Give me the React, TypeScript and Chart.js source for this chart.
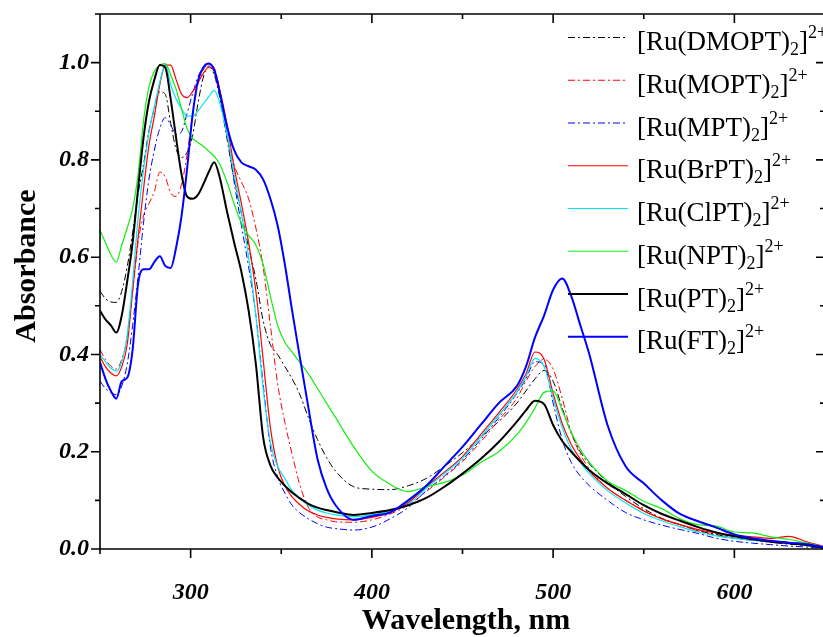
import React, { useEffect, useRef } from 'react';
import { Chart, registerables } from 'chart.js';

Chart.register(...registerables);

// Wavelength grid (nm)
const wavelengths = [
  250, 253, 256, 259, 262, 265, 268, 271, 274, 277, 280, 283, 286, 289, 292, 295, 298, 301, 304, 307, 310, 313, 316,
  320, 324, 328, 332, 336, 340, 344, 348, 352, 356, 360, 365, 370, 375, 380,
  390, 400, 410, 420, 430, 440, 450, 460, 470, 480, 485, 490, 495, 500, 505, 510, 515, 520,
  530, 540, 550, 560, 570, 580, 590, 600, 610, 620, 630, 640, 650,
];

const absDMOPT = [
  0.53, 0.515, 0.508, 0.507, 0.53, 0.58, 0.65, 0.73, 0.79, 0.86, 0.905, 0.94, 0.935, 0.875, 0.822, 0.805, 0.815, 0.848, 0.915, 0.97, 0.993, 0.975, 0.93,
  0.845, 0.76, 0.69, 0.62, 0.555, 0.47, 0.42, 0.4, 0.375, 0.35, 0.32, 0.27, 0.225, 0.188, 0.16,
  0.128, 0.123, 0.122, 0.13, 0.145, 0.17, 0.198, 0.23, 0.262, 0.3, 0.325, 0.35, 0.367, 0.345, 0.29, 0.238, 0.2, 0.175,
  0.138, 0.108, 0.083, 0.063, 0.05, 0.038, 0.03, 0.022, 0.018, 0.014, 0.01, 0.007, 0.002,
];
const absMOPT = [
  0.41, 0.39, 0.376, 0.37, 0.39, 0.435, 0.53, 0.63, 0.685, 0.71, 0.735, 0.775, 0.765, 0.732, 0.725, 0.75, 0.81, 0.89, 0.955, 0.985, 0.997, 0.99, 0.945,
  0.855, 0.79, 0.755, 0.72, 0.66, 0.58, 0.46, 0.34, 0.26, 0.195, 0.135, 0.085, 0.066, 0.06, 0.056,
  0.055, 0.06, 0.072, 0.09, 0.118, 0.148, 0.18, 0.22, 0.265, 0.31, 0.345, 0.375, 0.39, 0.37, 0.31, 0.24, 0.195, 0.165,
  0.125, 0.1, 0.08, 0.062, 0.05, 0.037, 0.028, 0.022, 0.02, 0.016, 0.014, 0.01, 0.003,
];
const absMPT = [
  0.345, 0.33, 0.322, 0.317, 0.335, 0.38, 0.46, 0.56, 0.67, 0.76, 0.82, 0.865, 0.887, 0.872, 0.852, 0.858, 0.895, 0.935, 0.97, 0.99, 0.998, 0.98, 0.94,
  0.855, 0.755, 0.665, 0.58, 0.48, 0.34, 0.21, 0.148, 0.115, 0.09, 0.075, 0.062, 0.052, 0.045, 0.042,
  0.039, 0.045, 0.062, 0.085, 0.12, 0.15, 0.183, 0.225, 0.27, 0.32, 0.35, 0.385, 0.38, 0.3, 0.225, 0.178, 0.15, 0.13,
  0.1, 0.075, 0.06, 0.049, 0.04, 0.032, 0.022, 0.016, 0.012, 0.009, 0.006, 0.004, 0.001,
];
const absBrPT = [
  0.395, 0.375, 0.362, 0.356, 0.375, 0.42, 0.53, 0.64, 0.74, 0.83, 0.89, 0.955, 0.995, 0.995, 0.965, 0.935, 0.928, 0.94, 0.958, 0.978, 0.99, 0.985, 0.945,
  0.875, 0.785, 0.71, 0.63, 0.53, 0.39, 0.25, 0.17, 0.13, 0.107, 0.092, 0.078, 0.07, 0.065, 0.062,
  0.06, 0.065, 0.075, 0.095, 0.128, 0.158, 0.19, 0.235, 0.28, 0.328, 0.36, 0.405, 0.39, 0.32, 0.258, 0.215, 0.185, 0.16,
  0.125, 0.1, 0.078, 0.062, 0.05, 0.04, 0.033, 0.028, 0.025, 0.022, 0.026, 0.015, 0.005,
];
const absClPT = [
  0.4, 0.385, 0.372, 0.366, 0.385, 0.44, 0.55, 0.68, 0.78, 0.855, 0.91, 0.96, 0.997, 0.955, 0.925, 0.905, 0.89, 0.89, 0.9, 0.915, 0.93, 0.943, 0.918,
  0.855, 0.77, 0.69, 0.6, 0.48, 0.33, 0.22, 0.17, 0.145, 0.12, 0.105, 0.09, 0.08, 0.074, 0.07,
  0.066, 0.07, 0.078, 0.092, 0.125, 0.155, 0.187, 0.23, 0.275, 0.322, 0.355, 0.392, 0.375, 0.31, 0.25, 0.205, 0.178, 0.155,
  0.12, 0.095, 0.073, 0.058, 0.046, 0.035, 0.027, 0.022, 0.018, 0.015, 0.012, 0.008, 0.002,
];
const absNPT = [
  0.655, 0.63, 0.605, 0.59, 0.625, 0.66, 0.7, 0.77, 0.88, 0.95, 0.982, 0.995, 0.998, 0.975, 0.945, 0.905, 0.865, 0.845, 0.836, 0.828, 0.818, 0.808, 0.792,
  0.755, 0.71, 0.67, 0.645, 0.625, 0.585, 0.52, 0.46, 0.425, 0.405, 0.385, 0.36, 0.33, 0.3, 0.27,
  0.21, 0.16, 0.133, 0.118, 0.128, 0.137, 0.152, 0.178, 0.2, 0.235, 0.26, 0.29, 0.322, 0.325, 0.285, 0.24, 0.205, 0.178,
  0.14, 0.12, 0.098, 0.083, 0.062, 0.05, 0.047, 0.035, 0.033, 0.025, 0.02, 0.012, 0.004,
];
const absPT = [
  0.49, 0.472, 0.46, 0.445, 0.48, 0.55, 0.63, 0.74, 0.845, 0.92, 0.965, 0.995, 0.99, 0.925, 0.845, 0.77, 0.725, 0.72, 0.728, 0.75, 0.775, 0.795, 0.765,
  0.695, 0.63, 0.57, 0.49, 0.38, 0.23, 0.172, 0.147, 0.13, 0.116, 0.105, 0.093, 0.085, 0.08, 0.076,
  0.07, 0.074, 0.08, 0.09, 0.105, 0.128, 0.155, 0.185, 0.22, 0.262, 0.285, 0.305, 0.298, 0.255, 0.222, 0.2, 0.18, 0.162,
  0.135, 0.113, 0.09, 0.072, 0.058, 0.045, 0.034, 0.026, 0.02, 0.015, 0.012, 0.008, 0.002,
];
const absFT = [
  0.384, 0.35, 0.325, 0.309, 0.345, 0.352, 0.41, 0.545, 0.575, 0.575, 0.59, 0.602, 0.582, 0.578, 0.62, 0.685, 0.78, 0.89, 0.962, 0.99, 0.998, 0.985, 0.94,
  0.87, 0.82, 0.795, 0.787, 0.78, 0.76, 0.72, 0.665, 0.585, 0.49, 0.4, 0.29, 0.185, 0.125, 0.09,
  0.06, 0.068, 0.075, 0.1, 0.13, 0.17, 0.21, 0.255, 0.3, 0.335, 0.375, 0.435, 0.48, 0.533, 0.556, 0.52, 0.46, 0.4,
  0.255, 0.17, 0.135, 0.1, 0.072, 0.057, 0.044, 0.03, 0.022, 0.017, 0.013, 0.01, 0.003,
];

const ligandNames = ['DMOPT', 'MOPT', 'MPT', 'BrPT', 'ClPT', 'NPT', 'PT', 'FT'];
const seriesValues = [absDMOPT, absMOPT, absMPT, absBrPT, absClPT, absNPT, absPT, absFT];

const xTickValues = [300, 400, 500, 600];
const yTickValues = [0, 0.2, 0.4, 0.6, 0.8, 1.0];

const xTitle = 'Wavelength, nm';
const yTitle = 'Absorbance';

const SERIF = "'Liberation Serif', 'Times New Roman', Times, serif";
const DASHDOT = [7, 3, 2, 3];

const lineStyles = [
  { color: '#000000', width: 1, dash: DASHDOT },
  { color: '#ff0000', width: 1, dash: DASHDOT },
  { color: '#0000ff', width: 1, dash: DASHDOT },
  { color: '#ff0000', width: 1.2, dash: [] as number[] },
  { color: '#00e6f0', width: 1.2, dash: [] as number[] },
  { color: '#11ee11', width: 1.2, dash: [] as number[] },
  { color: '#000000', width: 2, dash: [] as number[] },
  { color: '#0000ff', width: 2, dash: [] as number[] },
];

function drawFormula(ctx: CanvasRenderingContext2D, x: number, baseline: number, name: string) {
  ctx.fillStyle = '#000';
  ctx.textBaseline = 'alphabetic';
  ctx.textAlign = 'left';
  ctx.font = `27px ${SERIF}`;
  const main = `[Ru(${name})`;
  ctx.fillText(main, x, baseline);
  let cx = x + ctx.measureText(main).width;
  ctx.font = `18px ${SERIF}`;
  ctx.fillText('2', cx, baseline + 5);
  cx += ctx.measureText('2').width;
  ctx.font = `27px ${SERIF}`;
  ctx.fillText(']', cx, baseline);
  cx += ctx.measureText(']').width;
  ctx.font = `18px ${SERIF}`;
  ctx.fillText('2+', cx, baseline - 12);
}

const framePlugin = {
  id: 'frame',
  afterDatasetsDraw(chart: any) {
    const { ctx, chartArea, scales } = chart;
    const { left, right, top, bottom } = chartArea;
    const xs = scales.x;
    const ys = scales.y;
    ctx.save();
    ctx.strokeStyle = '#000';
    ctx.lineWidth = 1.6;
    ctx.setLineDash([]);
    ctx.beginPath();
    ctx.rect(left, top, right - left, bottom - top);
    // x ticks: bottom outward, top inward
    for (let v = 250; v <= 650; v += 50) {
      const px = xs.getPixelForValue(v);
      const len = v % 100 === 0 ? 9 : 5;
      ctx.moveTo(px, bottom);
      ctx.lineTo(px, bottom + len);
      ctx.moveTo(px, top);
      ctx.lineTo(px, top + len);
    }
    // y ticks: left outward, right inward
    for (let k = 0; k <= 11; k++) {
      const py = ys.getPixelForValue(k / 10);
      const len = k % 2 === 0 ? 9 : 5;
      ctx.moveTo(left, py);
      ctx.lineTo(left - len, py);
      ctx.moveTo(right, py);
      ctx.lineTo(right - len, py);
    }
    ctx.stroke();

    // axis titles
    ctx.fillStyle = '#000';
    ctx.font = `bold 30px ${SERIF}`;
    ctx.textAlign = 'center';
    ctx.textBaseline = 'middle';
    ctx.fillText(xTitle, 466, 621);
    ctx.save();
    ctx.translate(27, 266);
    ctx.rotate(-Math.PI / 2);
    ctx.fillText(yTitle, 0, 0);
    ctx.restore();

    // legend
    ligandNames.forEach((name, i) => {
      const ly = 37.5 + 42.75 * i;
      const st = lineStyles[i];
      ctx.strokeStyle = st.color;
      ctx.lineWidth = st.width;
      ctx.setLineDash(st.dash);
      ctx.beginPath();
      ctx.moveTo(568, ly);
      ctx.lineTo(628, ly);
      ctx.stroke();
      ctx.setLineDash([]);
      drawFormula(ctx, 637, ly + 12.5, name);
    });
    ctx.restore();
  },
};

export default function App() {
  const canvasRef = useRef<HTMLCanvasElement | null>(null);

  useEffect(() => {
    const canvas = canvasRef.current;
    if (!canvas) return;
    const datasets = ligandNames.map((name, i) => ({
      label: `[Ru(${name})2]2+`,
      data: wavelengths.map((w, j) => ({ x: w, y: seriesValues[i][j] })),
      borderColor: lineStyles[i].color,
      borderWidth: lineStyles[i].width,
      borderDash: lineStyles[i].dash,
      pointRadius: 0,
      fill: false,
      cubicInterpolationMode: 'monotone' as const,
      order: ligandNames.length - i,
    }));
    const tickFont = { family: SERIF, size: 24, weight: 'bold' as const, style: 'italic' as const };
    const chart = new Chart(canvas, {
      type: 'line',
      data: { datasets },
      plugins: [framePlugin],
      options: {
        animation: false,
        responsive: true,
        maintainAspectRatio: false,
        layout: { padding: { top: 14, right: 5, left: 0, bottom: 0 } },
        plugins: { legend: { display: false }, tooltip: { enabled: false } },
        scales: {
          x: {
            type: 'linear',
            min: 250,
            max: 650,
            afterBuildTicks: (s: any) => {
              s.ticks = xTickValues.map((v) => ({ value: v }));
            },
            afterFit: (s: any) => {
              s.height = 88;
              s.paddingLeft = 0;
              s.paddingRight = 0;
            },
            grid: { display: false, drawTicks: false },
            border: { display: false },
            ticks: {
              color: '#000',
              font: tickFont,
              padding: 29,
              maxRotation: 0,
              autoSkip: false,
              callback: (v: any) => String(v),
            },
          },
          y: {
            type: 'linear',
            min: 0,
            max: 1.1,
            afterBuildTicks: (s: any) => {
              s.ticks = yTickValues.map((v) => ({ value: v }));
            },
            afterFit: (s: any) => {
              s.width = 100;
              s.paddingTop = 0;
              s.paddingBottom = 0;
            },
            grid: { display: false, drawTicks: false },
            border: { display: false },
            ticks: {
              color: '#000',
              font: tickFont,
              padding: 11,
              autoSkip: false,
              callback: (v: any) => Number(v).toFixed(1),
            },
          },
        },
      },
    });
    return () => chart.destroy();
  }, []);

  return (
    <div style={{ position: 'absolute', left: 0, top: 0, width: 823, height: 637, overflow: 'hidden', background: '#fff' }}>
      <div style={{ position: 'relative', width: 830, height: 637 }}>
        <canvas ref={canvasRef} />
      </div>
    </div>
  );
}
